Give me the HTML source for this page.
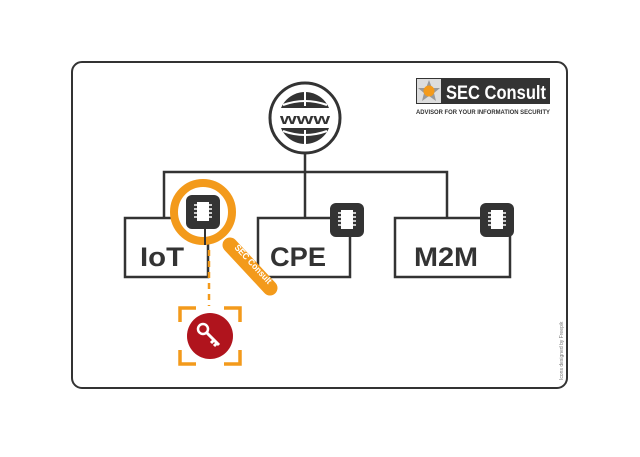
<!DOCTYPE html>
<html><head><style>
body{margin:0;background:#fff;width:640px;height:452px;overflow:hidden}
text{font-family:"Liberation Sans",sans-serif}
</style></head><body>
<svg width="640" height="452" viewBox="0 0 640 452" xmlns="http://www.w3.org/2000/svg">
<rect x="72" y="62" width="495" height="326" rx="10" fill="#fff" stroke="#333" stroke-width="2"/>
<g stroke="#333" stroke-width="2.5" fill="none">
<line x1="305" y1="150" x2="305" y2="218"/>
<polyline points="164,218 164,172 447,172 447,218"/>
</g>
<circle cx="305" cy="118" r="35" fill="#fff" stroke="#333" stroke-width="3"/>
<circle cx="305" cy="118" r="26" fill="#333"/>
<rect x="276" y="108" width="58" height="20" fill="#fff"/>
<path d="M283 105 Q305 97 327 105 M283 131 Q305 139 327 131" stroke="#fff" stroke-width="2" fill="none"/>
<path d="M305 92 V106 M305 130 V144" stroke="#fff" stroke-width="2"/>
<text x="305" y="124" font-size="15" font-weight="bold" text-anchor="middle" fill="#333" textLength="50" lengthAdjust="spacingAndGlyphs">www</text>
<g fill="#fff" stroke="#333" stroke-width="2.5">
<rect x="125" y="218" width="83" height="59"/>
<rect x="258" y="218" width="92" height="59"/>
<rect x="395" y="218" width="115" height="59"/>
</g>
<g font-size="27" font-weight="bold" fill="#333" text-anchor="middle">
<text x="162" y="266" textLength="44" lengthAdjust="spacingAndGlyphs">IoT</text>
<text x="298" y="266" textLength="56" lengthAdjust="spacingAndGlyphs">CPE</text>
<text x="446" y="266" textLength="64" lengthAdjust="spacingAndGlyphs">M2M</text>
</g>
<g>
<rect x="330" y="203" width="34" height="34" rx="6" fill="#333"/>
<rect x="341" y="210" width="12" height="19" fill="#fff"/><path d="M338 213h18M338 217h18M338 221h18M338 225h18" stroke="#fff" stroke-width="1.5"/>
<rect x="480" y="203" width="34" height="34" rx="6" fill="#333"/>
<rect x="491" y="210" width="12" height="19" fill="#fff"/><path d="M488 213h18M488 217h18M488 221h18M488 225h18" stroke="#fff" stroke-width="1.5"/>
</g>
<line x1="230" y1="245" x2="270" y2="288" stroke="#f39a1b" stroke-width="15" stroke-linecap="round"/>
<text x="0" y="0" font-size="9" font-weight="bold" fill="#fff" transform="translate(234,248) rotate(47)" textLength="50" lengthAdjust="spacingAndGlyphs">SEC Consult</text>
<circle cx="203" cy="212" r="29" fill="#fff" stroke="#f39a1b" stroke-width="8"/>
<rect x="186" y="195" width="34" height="34" rx="6" fill="#333"/>
<rect x="197" y="202" width="12" height="19" fill="#fff"/><path d="M194 205h18M194 209h18M194 213h18M194 217h18" stroke="#fff" stroke-width="1.5"/>
<line x1="205" y1="229" x2="205" y2="245" stroke="#333" stroke-width="2"/>
<line x1="209" y1="250" x2="209" y2="306" stroke="#f39a1b" stroke-width="2.5" stroke-dasharray="6,5"/>
<g stroke="#f39a1b" stroke-width="3.5" fill="none">
<path d="M180 322V308h16M224 308h16v14M180 350v14h16M224 364h16v-14"/>
</g>
<circle cx="210" cy="336" r="23" fill="#b0141d"/>
<circle cx="203" cy="329" r="5" fill="none" stroke="#fff" stroke-width="2.5"/>
<path d="M207 333l12 12M214 340l-3 3M217 343l-3 3" stroke="#fff" stroke-width="3"/>
<rect x="416" y="78" width="134" height="26" fill="#333"/>
<rect x="417" y="79" width="24" height="24" fill="#ddd"/>
<polygon points="429,80 432,88 440,88 434,93 436,101 429,96 422,101 424,93 418,88 426,88" fill="#999"/>
<circle cx="429" cy="91" r="5.5" fill="#f39a1b"/>
<text x="446" y="99" font-size="19" font-weight="bold" fill="#fff" textLength="100" lengthAdjust="spacingAndGlyphs">SEC Consult</text>
<text x="416" y="114" font-size="6.2" font-weight="bold" fill="#333" textLength="134" lengthAdjust="spacingAndGlyphs">ADVISOR FOR YOUR INFORMATION SECURITY</text>
<text x="0" y="0" font-size="5" fill="#777" transform="translate(563,380) rotate(-90)">Icons designed by Freepik</text>
</svg>
</body></html>
